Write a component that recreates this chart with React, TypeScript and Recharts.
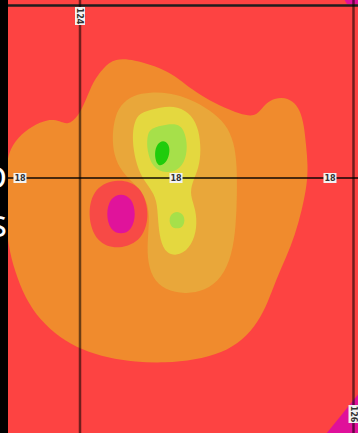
import React from 'react';
import { ScatterChart, Scatter, XAxis, YAxis, ReferenceDot } from 'recharts';

// Visible map window (degrees)
const lonDomain: [number, number] = [123.4735, 126.0329];
const latDomain: [number, number] = [16.2292, 19.2361];

// Graticule
const gridLons = [124, 126];
const gridLats = [18];
const frameLat = 19.198;
const latTagLons = [123.561, 124.702, 125.828];
const lonTags = [
  { lon: 124, lat: 19.125, text: '124' },
  { lon: 126, lat: 16.361, text: '126' },
];

// Contour outlines, [lon, lat]
const bandOrange = [
  [124.168, 18.764], [124.256, 18.833], [124.402, 18.819], [124.548, 18.778], [124.673, 18.722],
  [124.768, 18.653], [124.878, 18.576], [125.024, 18.5], [125.17, 18.444], [125.28, 18.424],
  [125.331, 18.486], [125.389, 18.542], [125.477, 18.563], [125.558, 18.535], [125.609, 18.472],
  [125.638, 18.368], [125.653, 18.229], [125.667, 18.09], [125.66, 17.951], [125.623, 17.778],
  [125.572, 17.604], [125.506, 17.444], [125.433, 17.292], [125.375, 17.139], [125.302, 17.0],
  [125.192, 16.875], [125.038, 16.785], [124.841, 16.736], [124.622, 16.715], [124.402, 16.722],
  [124.205, 16.75], [124.015, 16.806], [123.854, 16.889], [123.707, 17.014], [123.598, 17.167],
  [123.525, 17.347], [123.473, 17.535], [123.452, 17.778], [123.452, 17.986], [123.473, 18.181],
  [123.547, 18.285], [123.649, 18.361], [123.766, 18.41], [123.854, 18.396], [123.912, 18.368],
  [123.985, 18.424], [124.044, 18.542], [124.095, 18.667],
];

const bandAmber = [
  [124.249, 18.403], [124.293, 18.507], [124.388, 18.576], [124.512, 18.597], [124.658, 18.59],
  [124.804, 18.549], [124.951, 18.472], [125.068, 18.375], [125.126, 18.25], [125.148, 18.09],
  [125.148, 17.882], [125.141, 17.674], [125.112, 17.465], [125.038, 17.306], [124.914, 17.215],
  [124.768, 17.194], [124.622, 17.222], [124.527, 17.306], [124.49, 17.444], [124.497, 17.604],
  [124.512, 17.778], [124.453, 17.917], [124.329, 18.014], [124.256, 18.125], [124.234, 18.264],
];

const bandYellow = [
  [124.453, 18.458], [124.585, 18.493], [124.717, 18.5], [124.819, 18.438], [124.87, 18.333],
  [124.885, 18.194], [124.87, 18.069], [124.819, 17.965], [124.804, 17.882], [124.848, 17.778],
  [124.856, 17.653], [124.819, 17.535], [124.731, 17.458], [124.629, 17.472], [124.585, 17.569],
  [124.57, 17.708], [124.563, 17.847], [124.512, 17.931], [124.439, 18.021], [124.395, 18.16],
  [124.381, 18.299], [124.402, 18.41],
];

const bandLime = [
  [124.512, 18.347], [124.636, 18.375], [124.746, 18.375], [124.782, 18.264], [124.782, 18.16],
  [124.739, 18.063], [124.629, 18.028], [124.527, 18.076], [124.49, 18.194], [124.49, 18.285],
];

const spotLime = [
  [124.709, 17.771], [124.753, 17.75], [124.768, 17.708], [124.753, 17.66],
  [124.709, 17.646], [124.665, 17.66], [124.651, 17.708], [124.665, 17.75],
];

const coreGreen = [
  [124.629, 18.257], [124.658, 18.215], [124.651, 18.146], [124.614, 18.09],
  [124.57, 18.083], [124.548, 18.132], [124.548, 18.208], [124.585, 18.257],
];

const lowRing = [
  [124.278, 18.0], [124.446, 17.951], [124.512, 17.757], [124.461, 17.569],
  [124.285, 17.5], [124.117, 17.549], [124.051, 17.743], [124.102, 17.938],
];

const lowCore = [
  [124.3, 17.896], [124.38, 17.861], [124.41, 17.75], [124.38, 17.639],
  [124.3, 17.604], [124.219, 17.639], [124.19, 17.75], [124.219, 17.861],
];

const cornerSE = [[125.799, 16.222], [126.048, 16.514], [126.048, 16.222]];
const cornerNE = [[125.931, 19.243], [126.048, 19.243], [126.048, 19.208], [125.952, 19.208]];

const toPts = (rows: number[][]) => rows.map(([lon, lat]) => ({ lon, lat }));

const layers = [
  { id: 'orange', rows: bandOrange, fill: '#f08b2d', smooth: true },
  { id: 'amber', rows: bandAmber, fill: '#e9a73a', smooth: true },
  { id: 'yellow', rows: bandYellow, fill: '#e4d83f', smooth: true },
  { id: 'lime', rows: bandLime, fill: '#a6e04a', smooth: true },
  { id: 'limeSpot', rows: spotLime, fill: '#a6e04a', smooth: true },
  { id: 'green', rows: coreGreen, fill: '#1fcc0c', smooth: true },
  { id: 'ring', rows: lowRing, fill: '#f74a46', smooth: true },
  { id: 'pink', rows: lowCore, fill: '#e0139b', smooth: true },
  { id: 'se', rows: cornerSE, fill: '#e0109a', smooth: false },
  { id: 'ne', rows: cornerNE, fill: '#e0109a', smooth: false },
];

// graticule segments drawn as two-point series so they sit above the fills
const [lonLo, lonHi] = [lonDomain[0] - 0.1, lonDomain[1] + 0.1];
const [latLo, latHi] = [latDomain[0] - 0.1, latDomain[1] + 0.1];
const gridSegments = [
  { id: 'frame', pts: [{ lon: lonLo, lat: frameLat }, { lon: lonHi, lat: frameLat }], stroke: '#1e1e1e', opacity: 1, width: 2.5 },
  ...gridLons.map((lon) => ({ id: `lon${lon}`, pts: [{ lon, lat: latLo }, { lon, lat: latHi }], stroke: '#000', opacity: 0.55, width: 2.5 })),
  ...gridLats.map((lat) => ({ id: `lat${lat}`, pts: [{ lon: lonLo, lat }, { lon: lonHi, lat }], stroke: '#000', opacity: 0.7, width: 2 })),
];

const GridTag = ({ cx, cy, text, vertical }: { cx?: number; cy?: number; text: string; vertical?: boolean }) => {
  const w = text.length * 5 + 3;
  return (
    <g transform={`translate(${cx},${cy})${vertical ? ' rotate(90)' : ''}`}>
      <rect x={-w / 2} y={-5} width={w} height={10} fill="#f2f2f2" />
      <text x={0} y={3} textAnchor="middle" fontSize={8} fontWeight="bold" fontFamily="DejaVu Sans, sans-serif" fill="#333">
        {text}
      </text>
    </g>
  );
};

export default function App() {
  return (
    <div style={{ position: 'absolute', left: 0, top: 0, width: 358, height: 433, background: '#000', overflow: 'hidden' }}>
      <svg width={8} height={433} style={{ position: 'absolute', left: 0, top: 0 }}>
        <text x={7} y={188} textAnchor="end" fontSize={38} fill="#fff" fontFamily="Open Sans, sans-serif">o</text>
        <text x={7} y={237} textAnchor="end" fontSize={38} fill="#fff" fontFamily="Open Sans, sans-serif">s</text>
      </svg>
      <div style={{ position: 'absolute', left: 8, top: 0 }}>
        <ScatterChart width={350} height={433} margin={{ top: 0, right: 0, bottom: 0, left: 0 }} style={{ background: '#fd4342' }}>
          <XAxis type="number" dataKey="lon" domain={lonDomain} allowDataOverflow hide />
          <YAxis type="number" dataKey="lat" domain={latDomain} allowDataOverflow hide />
          {layers.map((l) => (
            <Scatter
              key={l.id}
              data={toPts(l.rows)}
              isAnimationActive={false}
              shape={() => <g />}
              line={{ fill: l.fill, stroke: 'none' }}
              lineType="joint"
              lineJointType={l.smooth ? 'basisClosed' : 'linearClosed'}
            />
          ))}
          {gridSegments.map((s) => (
            <Scatter
              key={s.id}
              data={s.pts}
              isAnimationActive={false}
              shape={() => <g />}
              line={{ stroke: s.stroke, strokeOpacity: s.opacity, strokeWidth: s.width, fill: 'none' }}
              lineType="joint"
              lineJointType="linear"
            />
          ))}
          {latTagLons.map((lon) => (
            <ReferenceDot key={lon} x={lon} y={gridLats[0]} r={0} shape={(p: any) => <GridTag cx={p.cx} cy={p.cy} text="18" />} />
          ))}
          {lonTags.map((t) => (
            <ReferenceDot key={t.text} x={t.lon} y={t.lat} r={0} shape={(p: any) => <GridTag cx={p.cx} cy={p.cy} text={t.text} vertical />} />
          ))}
        </ScatterChart>
      </div>
    </div>
  );
}
